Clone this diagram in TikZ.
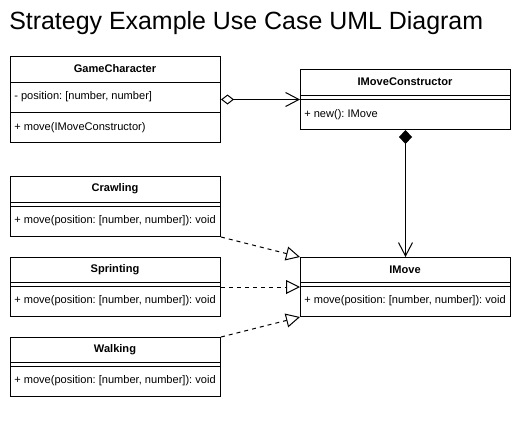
\documentclass[tikz,border=0pt]{standalone}
\usepackage{fontspec}
\setmainfont{Liberation Sans}
\usetikzlibrary{arrows.meta}
\frenchspacing

\tikzset{
  classbox/.style={draw, line width=0.75pt, anchor=north west, inner sep=0pt,
    minimum width=157.5pt},
  classname/.style={font=\fontsize{8.3}{10}\selectfont\bfseries, inner sep=0pt},
  member/.style={font=\fontsize{8.3}{10}\selectfont, anchor=west, inner sep=0pt},
  sepline/.style={line width=0.75pt},
  aggr/.style={line width=0.75pt,
    {Diamond[open,length=9.75pt,width=7.5pt]}-{Straight Barb[length=10pt,width=10.5pt]}},
  comp/.style={line width=0.75pt,
    {Diamond[length=10.5pt,width=9.75pt]}-{Straight Barb[length=10pt,width=10.5pt]}},
  realize/.style={line width=0.75pt, dashed, dash pattern=on 3pt off 3pt,
    -{Triangle[open,length=10.5pt,width=10.5pt]}}
}

\begin{document}
\begin{tikzpicture}[x=0.75pt,y=-0.75pt]
\useasboundingbox (0,0) rectangle (524,421);
% title
\node[anchor=base west, inner sep=0pt, font=\fontsize{18.7}{22}\selectfont] (title) at (9,29) {Strategy Example Use Case UML Diagram};

% GameCharacter
\node[classbox, minimum height=64.5pt] (gc) at (10,56) {};
\node[classname] (gcname) at (115,69) {GameCharacter};
\draw[sepline] (10,82) -- (220,82);
\node[member] (gcattr) at (14,97) {- position: [number, number]};
\draw[sepline] (10,112) -- (220,112);
\node[member] (gcop) at (14,128) {+ move(IMoveConstructor)};

% IMoveConstructor
\node[classbox, minimum height=45pt] (imc) at (300,69) {};
\node[classname] (imcname) at (405,82) {IMoveConstructor};
\draw[sepline] (300,95) -- (510,95);
\draw[sepline] (300,99) -- (510,99);
\node[member] (imcop) at (304,115) {+ new(): IMove};

% Crawling
\node[classbox, minimum height=45pt] (crawl) at (10,176) {};
\node[classname] (crawlname) at (115,189) {Crawling};
\draw[sepline] (10,202) -- (220,202);
\draw[sepline] (10,206) -- (220,206);
\node[member] (crawlop) at (14,221) {+ move(position: [number, number]): void};

% Sprinting
\node[classbox, minimum height=44.25pt] (sprint) at (10,257) {};
\node[classname] (sprintname) at (115,270) {Sprinting};
\draw[sepline] (10,282) -- (220,282);
\draw[sepline] (10,286) -- (220,286);
\node[member] (sprintop) at (14,301) {+ move(position: [number, number]): void};

% Walking
\node[classbox, minimum height=44.25pt] (walk) at (10,337) {};
\node[classname] (walkname) at (115,350) {Walking};
\draw[sepline] (10,362) -- (220,362);
\draw[sepline] (10,366) -- (220,366);
\node[member] (walkop) at (14,381) {+ move(position: [number, number]): void};

% IMove
\node[classbox, minimum height=44.25pt] (imove) at (300,257) {};
\node[classname] (imovename) at (405,270) {IMove};
\draw[sepline] (300,282) -- (510,282);
\draw[sepline] (300,286) -- (510,286);
\node[member] (imoveop) at (304,301) {+ move(position: [number, number]): void};

% relations
\draw[aggr] (gc.east) -- (imc.west);
\draw[comp] (imc.south) -- (imove.north);
\draw[realize] (crawl.south east) -- (imove.north west);
\draw[realize] (sprint.east) -- (imove.west);
\draw[realize] (walk.north east) -- (imove.south west);
\end{tikzpicture}
\end{document}
